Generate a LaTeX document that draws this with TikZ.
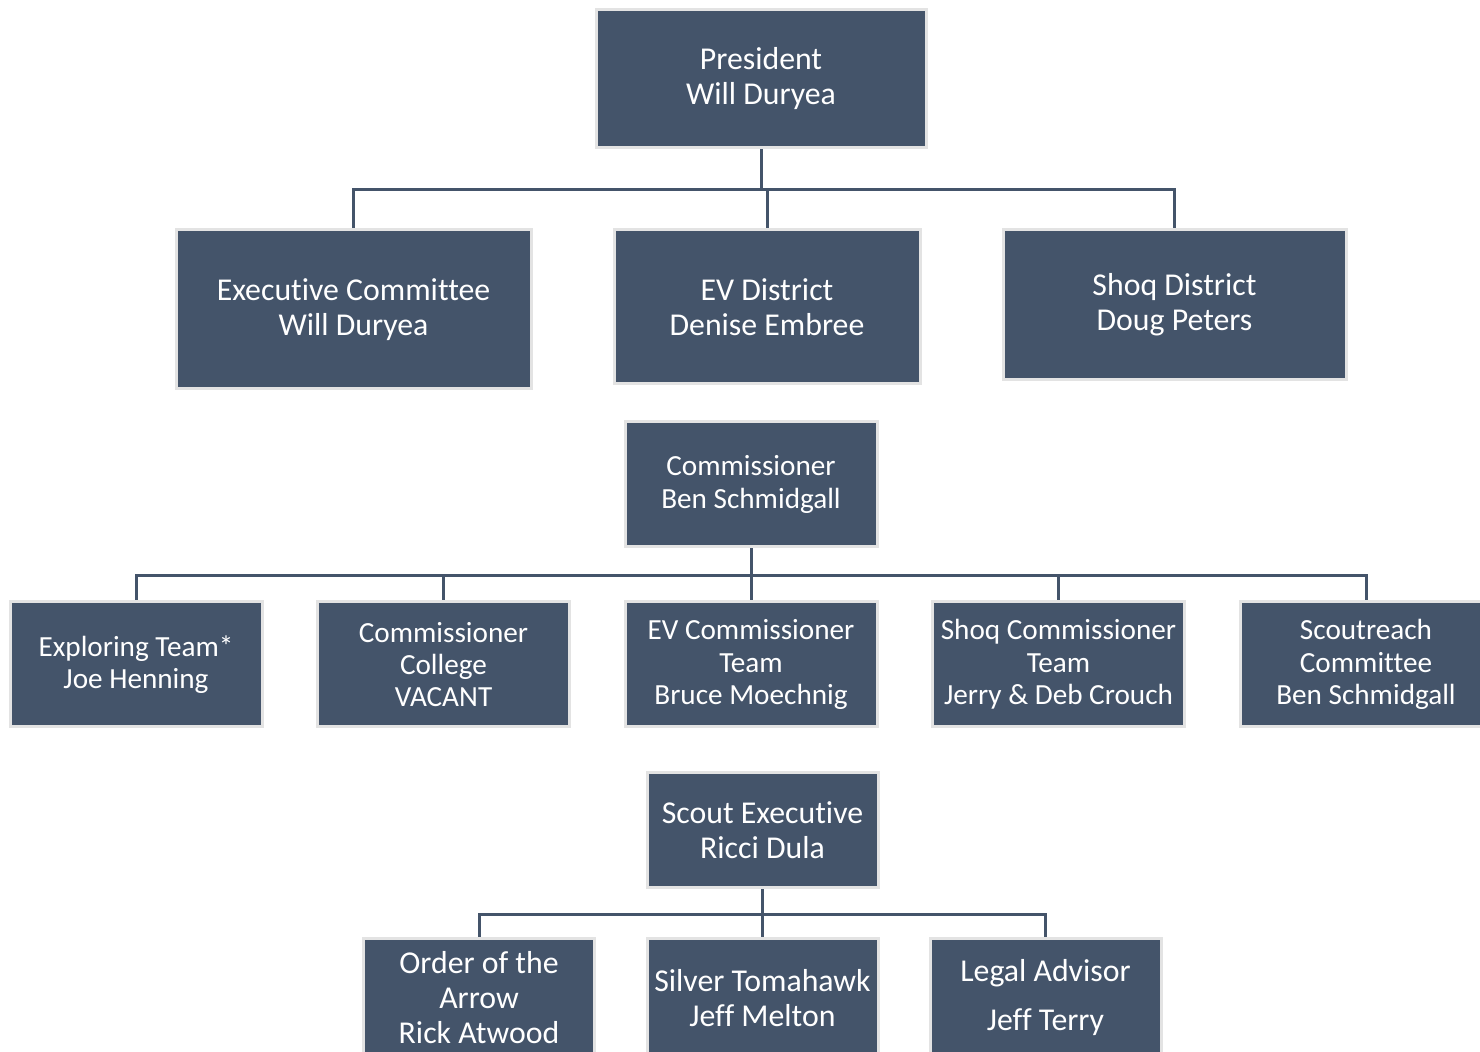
\documentclass[tikz,border=0pt]{standalone}
\usepackage{fontspec}
\setmainfont{Carlito}[Ligatures=CommonOff]
\usepackage{tikz}
\usetikzlibrary{positioning}
\definecolor{slate}{HTML}{44546A}
\definecolor{rim}{HTML}{E3E3E3}

\begin{document}
\begin{tikzpicture}[x=0.5pt,y=-0.5pt,
    box/.style={fill=slate,draw=rim,line width=1.5pt,text=white,align=center,
      inner sep=0pt,font=\fontsize{15.9}{17.5}\selectfont},
    small/.style={font=\fontsize{14.6}{16.2}\selectfont},
    link/.style={draw=slate,line width=1.5pt}]
  \useasboundingbox (0,0) rectangle (1480,1052);
  \clip (0,0) rectangle (1480,1052);

  % top
  \node[box,minimum width=165pt,minimum height=69pt] (pres) at (761,79) {President\\Will Duryea};
  \node[box,minimum width=177.5pt,minimum height=79.5pt] (exec) at (353.5,309.5) {Executive Committee\\Will Duryea};
  \node[box,minimum width=153pt,minimum height=77pt] (evd) at (767,307) {EV District\\Denise Embree};
  \node[box,minimum width=171.5pt,minimum height=75pt] (shoq) at (1174.5,305) {Shoq District\\Doug Peters};

  % commissioner
  \node[box,small,minimum width=126pt,minimum height=62.5pt] (comm) at (751,484.5) {Commissioner\\Ben Schmidgall};
  \node[box,small,minimum width=126pt,minimum height=62.5pt] (explo) at (136,664.5) {Exploring Team*\\Joe Henning};
  \node[box,small,minimum width=126pt,minimum height=62.5pt] (college) at (443.5,664.5) {Commissioner\\College\\VACANT};
  \node[box,small,minimum width=126pt,minimum height=62.5pt] (evcomm) at (751,664.5) {EV Commissioner\\Team\\Bruce Moechnig};
  \node[box,small,minimum width=126pt,minimum height=62.5pt] (shoqcomm) at (1058.5,664.5) {Shoq Commissioner\\Team\\Jerry \& Deb Crouch};
  \node[box,small,minimum width=126pt,minimum height=62.5pt] (reach) at (1366,664.5) {Scoutreach\\Committee\\Ben Schmidgall};

  % scout executive
  \node[box,minimum width=115.5pt,minimum height=57.5pt] (se) at (762.5,830.5) {Scout Executive\\Ricci Dula};
  \node[box,minimum width=115.5pt,minimum height=59pt] (oa) at (479,998) {Order of the\\Arrow\\Rick Atwood};
  \node[box,minimum width=115.5pt,minimum height=59pt] (tomahawk) at (762.5,998) {Silver Tomahawk\\Jeff Melton};
  \node[box,minimum width=115.5pt,minimum height=59pt] (legal) at (1045.5,998) {Legal Advisor\\[7pt]Jeff Terry};

  \draw[link] (pres.south) -- ++(0,40) coordinate (bus1);
  \foreach \n in {exec,evd,shoq}
    \draw[link] (bus1) -| (\n.north);

  \draw[link] (comm.south) -- ++(0,27) coordinate (bus2);
  \foreach \n in {explo,college,evcomm,shoqcomm,reach}
    \draw[link] (bus2) -| (\n.north);

  \draw[link] (se.south) -- ++(0,25) coordinate (bus3);
  \foreach \n in {oa,tomahawk,legal}
    \draw[link] (bus3) -| (\n.north);
\end{tikzpicture}
\end{document}
